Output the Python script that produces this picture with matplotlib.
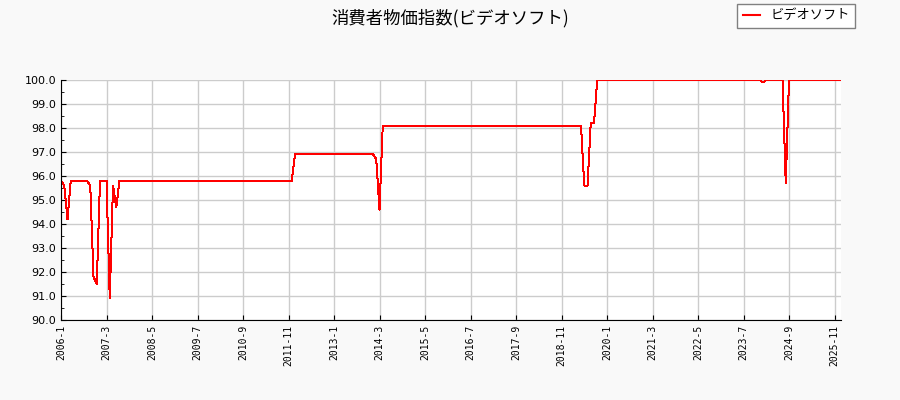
import numpy as np
import matplotlib
matplotlib.use("Agg")
import matplotlib.pyplot as plt
from matplotlib.ticker import MultipleLocator

plt.rcParams['font.family'] = ['Noto Sans CJK JP', 'DejaVu Sans']

title = "消費者物価指数(ビデオソフト)"
series_name = "ビデオソフト"

start_year, start_month = 2006, 1

# monthly index, one row per year (2006-1 .. 2026-1)
values = [
    95.8, 95.6, 94.2, 95.8, 95.8, 95.8, 95.8, 95.8, 95.8, 95.6, 91.8, 91.5,  # 2006
    95.8, 95.8, 95.8, 90.9, 95.6, 94.7, 95.8, 95.8, 95.8, 95.8, 95.8, 95.8,  # 2007
    95.8, 95.8, 95.8, 95.8, 95.8, 95.8, 95.8, 95.8, 95.8, 95.8, 95.8, 95.8,  # 2008
    95.8, 95.8, 95.8, 95.8, 95.8, 95.8, 95.8, 95.8, 95.8, 95.8, 95.8, 95.8,  # 2009
    95.8, 95.8, 95.8, 95.8, 95.8, 95.8, 95.8, 95.8, 95.8, 95.8, 95.8, 95.8,  # 2010
    95.8, 95.8, 95.8, 95.8, 95.8, 95.8, 95.8, 95.8, 95.8, 95.8, 95.8, 95.8,  # 2011
    96.9, 96.9, 96.9, 96.9, 96.9, 96.9, 96.9, 96.9, 96.9, 96.9, 96.9, 96.9,  # 2012
    96.9, 96.9, 96.9, 96.9, 96.9, 96.9, 96.9, 96.9, 96.9, 96.9, 96.9, 96.9,  # 2013
    96.9, 96.7, 94.6, 98.1, 98.1, 98.1, 98.1, 98.1, 98.1, 98.1, 98.1, 98.1,  # 2014
    98.1, 98.1, 98.1, 98.1, 98.1, 98.1, 98.1, 98.1, 98.1, 98.1, 98.1, 98.1,  # 2015
    98.1, 98.1, 98.1, 98.1, 98.1, 98.1, 98.1, 98.1, 98.1, 98.1, 98.1, 98.1,  # 2016
    98.1, 98.1, 98.1, 98.1, 98.1, 98.1, 98.1, 98.1, 98.1, 98.1, 98.1, 98.1,  # 2017
    98.1, 98.1, 98.1, 98.1, 98.1, 98.1, 98.1, 98.1, 98.1, 98.1, 98.1, 98.1,  # 2018
    98.1, 98.1, 98.1, 98.1, 98.1, 95.6, 95.6, 98.2, 98.2, 100.0, 100.0, 100.0,  # 2019
    100.0, 100.0, 100.0, 100.0, 100.0, 100.0, 100.0, 100.0, 100.0, 100.0, 100.0, 100.0,  # 2020
    100.0, 100.0, 100.0, 100.0, 100.0, 100.0, 100.0, 100.0, 100.0, 100.0, 100.0, 100.0,  # 2021
    100.0, 100.0, 100.0, 100.0, 100.0, 100.0, 100.0, 100.0, 100.0, 100.0, 100.0, 100.0,  # 2022
    100.0, 100.0, 100.0, 100.0, 100.0, 100.0, 100.0, 100.0, 100.0, 100.0, 100.0, 100.0,  # 2023
    99.9, 100.0, 100.0, 100.0, 100.0, 100.0, 100.0, 95.7, 100.0, 100.0, 100.0, 100.0,  # 2024
    100.0, 100.0, 100.0, 100.0, 100.0, 100.0, 100.0, 100.0, 100.0, 100.0, 100.0, 100.0,  # 2025
    100.0,  # 2026
]

month_labels = []
for k in range(len(values)):
    m = start_month - 1 + k
    month_labels.append(f"{start_year + m // 12}-{m % 12 + 1}")

x = np.arange(len(values))

fig = plt.figure(figsize=(9, 4), dpi=100, facecolor='#f9f9f9')
ax = fig.add_axes([61 / 900, 0.2, 780 / 900, 0.6])
ax.set_facecolor('white')

ax.plot(x, values, color='red', linewidth=0.72, antialiased=False, label=series_name)

ax.set_xlim(0, len(values) - 1)
ax.set_ylim(90, 100)
ax.set_xticks(x[::14])
ax.set_xticklabels(month_labels[::14], rotation=90, family='DejaVu Sans Mono', fontsize=7)
ax.yaxis.set_major_locator(MultipleLocator(1.0))
ax.yaxis.set_minor_locator(MultipleLocator(0.5))
ax.yaxis.set_major_formatter(matplotlib.ticker.FormatStrFormatter('%.1f'))
for t in ax.get_yticklabels():
    t.set_family('DejaVu Sans')
    t.set_fontsize(8)
ax.tick_params(direction='in', which='both')
ax.grid(True, color='#cccccc', linewidth=1)
ax.set_axisbelow(True)
ax.spines['top'].set_visible(False)
ax.spines['right'].set_visible(False)

fig.suptitle(title, fontsize=12.5, y=1 - 18 / 400, va='center')
leg = fig.legend(loc='upper right', bbox_to_anchor=(855 / 900, 1 - 4 / 400), borderaxespad=0,
                 fontsize=9.5, handlelength=1.3, fancybox=False, edgecolor='#808080',
                 framealpha=1)
for h in leg.get_lines():
    h.set_linewidth(1.5)
    h.set_antialiased(True)

fig.savefig('out.png', dpi=100, facecolor=fig.get_facecolor())
